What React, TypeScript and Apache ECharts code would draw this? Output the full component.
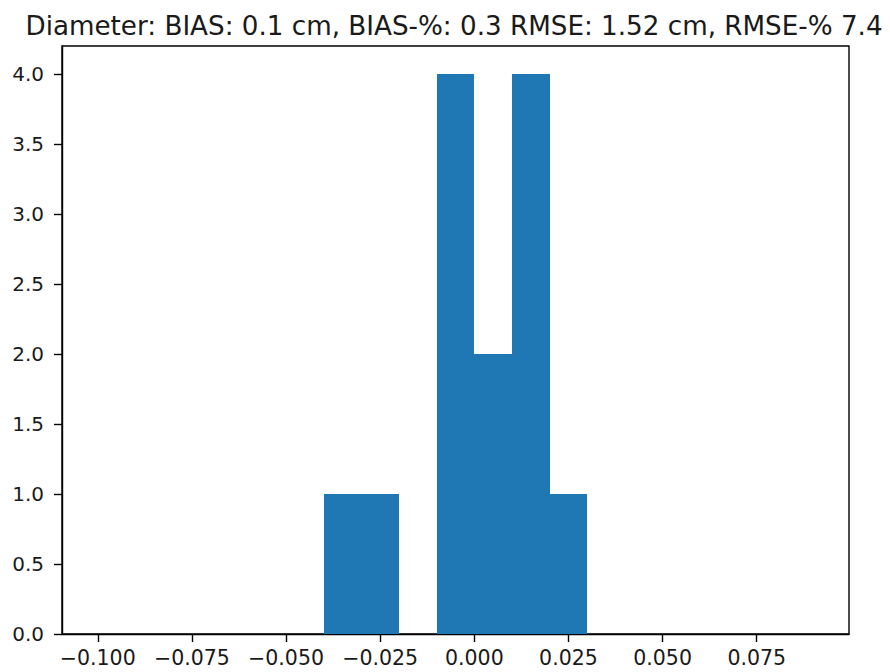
import React, { useEffect, useRef } from "react";
import * as echarts from "echarts";

const titleText = "Diameter: BIAS: 0.1 cm, BIAS-%: 0.3 RMSE: 1.52 cm, RMSE-% 7.4";
const binEdges = [
  -0.1, -0.09, -0.08, -0.07, -0.06, -0.05, -0.04, -0.03, -0.02, -0.01, 0.0,
  0.01, 0.02, 0.03, 0.04, 0.05, 0.06, 0.07, 0.08, 0.09,
];
const counts = [0, 0, 0, 0, 0, 0, 1, 1, 0, 4, 2, 4, 1, 0, 0, 0, 0, 0, 0];
const xTicks = [-0.1, -0.075, -0.05, -0.025, 0, 0.025, 0.05, 0.075];
const yTicks = [0, 0.5, 1, 1.5, 2, 2.5, 3, 3.5, 4];
const xMin = -0.1095;
const xMax = 0.0995;
const yMax = 4.2;

export default function App() {
  const ref = useRef<HTMLDivElement>(null);
  useEffect(() => {
    if (!ref.current) return;
    const chart = echarts.init(ref.current, null, { renderer: "svg" });
    const data = counts.map((c, i) => [binEdges[i], binEdges[i + 1], c]);
    const font = "DejaVu Sans";
    const textColor = "#1a1a1a";
    const barColor = "#1f77b4";
    chart.setOption({
      animation: false,
      backgroundColor: "#fff",
      grid: {
        left: 62,
        right: 41,
        top: 46,
        bottom: 38,
        containLabel: false,
        show: true,
        borderColor: "#000",
        borderWidth: 1.4,
        backgroundColor: "transparent",
      },
      graphic: [
        {
          type: "text",
          x: 454,
          y: 26,
          style: {
            text: titleText,
            fontFamily: font,
            fontSize: 26.2,
            fill: textColor,
            textAlign: "center",
            textVerticalAlign: "middle",
          },
        },
      ],
      xAxis: {
        type: "value",
        min: xMin,
        max: xMax,
        axisLine: { show: true, onZero: false, lineStyle: { color: "#000", width: 1.4 } },
        axisTick: {
          show: true,
          length: 8,
          customValues: xTicks,
          lineStyle: { color: "#000", width: 1.4 },
        },
        axisLabel: {
          customValues: xTicks,
          margin: 13,
          fontFamily: font,
          fontSize: 20.5,
          color: textColor,
          formatter: (v: number) => {
            const s = Math.abs(v).toFixed(3);
            return v < -1e-9 ? "\u2212" + s : s;
          },
        },
        splitLine: { show: false },
      },
      yAxis: {
        type: "value",
        min: 0,
        max: yMax,
        axisLine: { show: true, onZero: false, lineStyle: { color: "#000", width: 1.4 } },
        axisTick: {
          show: true,
          length: 8,
          customValues: yTicks,
          lineStyle: { color: "#000", width: 1.4 },
        },
        axisLabel: {
          customValues: yTicks,
          margin: 18,
          fontFamily: font,
          fontSize: 20,
          color: textColor,
          formatter: (v: number) => v.toFixed(1),
        },
        splitLine: { show: false },
      },
      series: [
        {
          type: "custom",
          data,
          encode: { x: [0, 1], y: 2 },
          z: 1,
          renderItem: (params: any, api: any) => {
            const x0 = api.value(0);
            const x1 = api.value(1);
            const c = api.value(2);
            const p0 = api.coord([x0, c]);
            const p1 = api.coord([x1, 0]);
            const left = Math.round(p0[0]);
            const right = Math.round(p1[0]);
            const top = Math.round(p0[1]);
            const bottom = Math.round(p1[1]);
            return {
              type: "rect",
              shape: {
                x: left,
                y: top,
                width: right - left,
                height: bottom - top,
              },
              style: { fill: barColor, stroke: "none" },
            };
          },
        },
      ],
    });
    return () => chart.dispose();
  }, []);
  return (
    <div
      ref={ref}
      style={{ position: "fixed", left: 0, top: 0, width: 890, height: 672 }}
    />
  );
}
